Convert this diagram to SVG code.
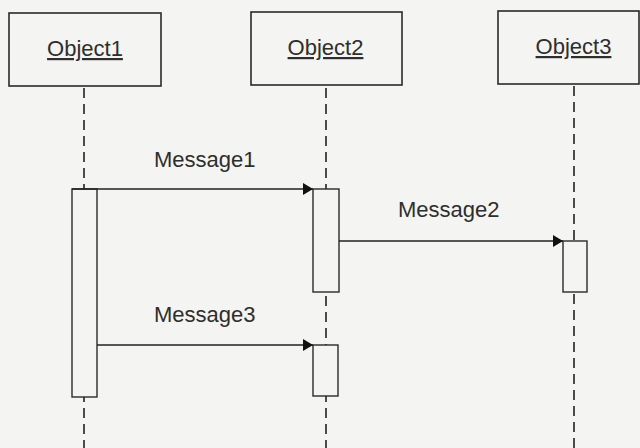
<svg xmlns="http://www.w3.org/2000/svg" width="640" height="448" viewBox="0 0 640 448">
<style>
.box{fill:#f4f4f2;stroke:#2a2a2a;stroke-width:1.6}
.act{fill:#f4f4f2;stroke:#2a2a2a;stroke-width:1.4}
.life{stroke:#222;stroke-width:1.6;stroke-dasharray:10 6;fill:none}
.msg{stroke:#222;stroke-width:1.4;fill:none;marker-end:url(#arr)}
.t{font-family:"Liberation Sans",Arial,sans-serif;font-size:22px;fill:#2e2e2e}
.u{text-decoration:underline}
</style>
<defs>
<marker id="arr" viewBox="0 0 10 12" refX="10" refY="6" markerWidth="10" markerHeight="12" markerUnits="userSpaceOnUse" orient="auto">
<path d="M0,0 L10,6 L0,12 Z" fill="#111"/>
</marker>
</defs>
<rect width="640" height="448" fill="#f4f4f2"/>
<g id="lifelines">
<line class="life" x1="84" y1="88" x2="84" y2="448"/>
<line class="life" x1="326" y1="88" x2="326" y2="448"/>
<line class="life" x1="574" y1="86" x2="574" y2="448"/>
</g>
<g id="object1"><rect class="box" x="9" y="13" width="152" height="73"/><text class="t u" x="85" y="56" text-anchor="middle">Object1</text></g>
<g id="object2"><rect class="box" x="251" y="12" width="151" height="73"/><text class="t u" x="325.5" y="55" text-anchor="middle">Object2</text></g>
<g id="object3"><rect class="box" x="498" y="11" width="141" height="73"/><text class="t u" x="573.5" y="54" text-anchor="middle">Object3</text></g>
<g id="act1"><rect class="act" x="72" y="189" width="25" height="208"/></g>
<g id="act2"><rect class="act" x="313" y="189" width="26" height="103"/></g>
<g id="act3"><rect class="act" x="563" y="241" width="24" height="51"/></g>
<g id="act4"><rect class="act" x="313" y="345" width="25" height="51"/></g>
<g id="connectors">
<line class="msg" x1="72" y1="189" x2="313" y2="189"/>
<line class="msg" x1="339" y1="241" x2="563" y2="241"/>
<line class="msg" x1="97" y1="345" x2="313" y2="345"/>
</g>
<g id="labels">
<text class="t" x="154" y="167">Message1</text>
<text class="t" x="398" y="217">Message2</text>
<text class="t" x="154" y="322">Message3</text>
</g>
</svg>
